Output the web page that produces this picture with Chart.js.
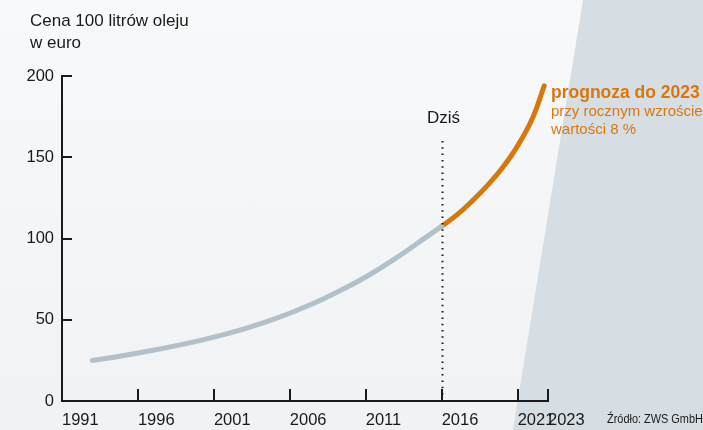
<!DOCTYPE html>
<html lang="pl">
<head>
<meta charset="utf-8">
<title>Cena 100 litrów oleju w euro</title>
<script src="https://cdn.jsdelivr.net/npm/chart.js@4/dist/chart.umd.min.js"></script>
<style>
    html, body { margin: 0; padding: 0; overflow: hidden; }
    body { width: 703px; height: 430px; background: linear-gradient(#f8f9fa, #f0f2f4); font-family: 'Liberation Sans', Arial, sans-serif; }
    #wrap { position: relative; width: 703px; height: 430px; }
    #chart { position: absolute; left: 0; top: 0; }
    .txt { position: absolute; white-space: nowrap; color: #1a1a1a; }
    #title { left: 30px; top: 10px; font-size: 17px; line-height: 22px; }
    #today { left: 427px; top: 108px; font-size: 17px; }
    #note { left: 551px; top: 82px; color: #d9780a; font-size: 15px; line-height: 18px; }
    #note b { font-size: 17.5px; display: block; line-height: 20px; }
    #source { left: 607px; top: 412px; font-size: 12px; transform: scaleX(0.91); transform-origin: left top; }
</style>
</head>
<body>
<div id="wrap">
    <canvas id="chart" width="703" height="430"></canvas>
    <div class="txt" id="title">Cena 100 litrów oleju<br>w euro</div>
    <div class="txt" id="today">Dziś</div>
    <div class="txt" id="note"><b>prognoza do 2023</b>przy rocznym wzroście<br>wartości 8 %</div>
    <div class="txt" id="source">Źródło: ZWS GmbH</div>
</div>
<script>
// values (euro per 100 litres)
var pastYears = [1993, 1995, 1997, 1999, 2001, 2003, 2005, 2007, 2009, 2011, 2013, 2015, 2016];
var pastPrices = [24.9, 27.8, 31.2, 35, 39.3, 44.4, 50.5, 57.8, 66.5, 76.3, 88, 101, 107.5];
var forecastYears = [2016, 2017, 2018, 2019, 2020, 2021, 2022, 2022.75];
var forecastPrices = [107.5, 114.5, 123, 132.5, 143.5, 157, 174.5, 194];
var xTickYears = [1991, 1996, 2001, 2006, 2011, 2016, 2021, 2023];
var yTickValues = [0, 50, 100, 150, 200];
var todayYear = 2016;

var ink = '#1a1a1a';
var tickFont = { family: "'Liberation Sans', Arial, sans-serif", size: 16.5 };

function toPoints(xs, ys) {
    return xs.map(function (x, i) { return { x: x, y: ys[i] }; });
}

// light grey wedge on the right + inward tick marks + dotted "today" line
var decorPlugin = {
    id: 'decor',
    beforeDraw: function (chart) {
        var c = chart.ctx;
        c.save();
        c.fillStyle = '#d6dde3';
        c.beginPath();
        c.moveTo(583, 0);
        c.lineTo(703, 0);
        c.lineTo(703, 430);
        c.lineTo(513, 430);
        c.closePath();
        c.fill();
        c.restore();
    },
    afterDatasetsDraw: function (chart) {
        var c = chart.ctx;
        var xs = chart.scales.x, ys = chart.scales.y;
        var bottom = ys.getPixelForValue(0), left = xs.getPixelForValue(1991);
        c.save();
        c.strokeStyle = ink;
        c.lineWidth = 2;
        xTickYears.slice(1).forEach(function (yr) {
            var px = Math.round(xs.getPixelForValue(yr));
            c.beginPath();
            c.moveTo(px, bottom);
            c.lineTo(px, bottom - 12);
            c.stroke();
        });
        yTickValues.slice(1).forEach(function (v) {
            var py = Math.round(ys.getPixelForValue(v));
            c.beginPath();
            c.moveTo(left, py);
            c.lineTo(left + 10, py);
            c.stroke();
        });
        // dotted line at "today"
        var tx = Math.round(xs.getPixelForValue(todayYear)) + 0.5;
        c.setLineDash([1.5, 4.8]);
        c.beginPath();
        c.moveTo(tx, ys.getPixelForValue(160));
        c.lineTo(tx, bottom - 2);
        c.stroke();
        c.restore();
    }
};

new Chart(document.getElementById('chart').getContext('2d'), {
    type: 'line',
    data: {
        datasets: [{
            label: 'dotychczas',
            data: toPoints(pastYears, pastPrices),
            borderColor: '#b2c1c9',
            borderWidth: 5,
            borderCapStyle: 'round',
            tension: 0.4,
            pointRadius: 0,
            fill: false,
            clip: false
        }, {
            label: 'prognoza',
            data: toPoints(forecastYears, forecastPrices),
            borderColor: '#d9780a',
            borderWidth: 5,
            borderCapStyle: 'round',
            tension: 0.4,
            pointRadius: 0,
            fill: false,
            clip: false
        }]
    },
    options: {
        responsive: false,
        animation: false,
        layout: { padding: { left: 0, top: 76, right: 155, bottom: 0 } },
        plugins: { legend: { display: false }, tooltip: { enabled: false } },
        scales: {
            x: {
                type: 'linear',
                min: 1991,
                max: 2023,
                afterBuildTicks: function (s) { s.ticks = xTickYears.map(function (v) { return { value: v }; }); },
                afterFit: function (s) { s.height = 29; },
                grid: { display: true, drawOnChartArea: false, drawTicks: false },
                border: { display: true, color: ink, width: 2 },
                ticks: {
                    align: 'start',
                    autoSkip: false,
                    maxRotation: 0,
                    padding: 10,
                    color: ink,
                    font: tickFont,
                    callback: function (v) { return String(v); }
                }
            },
            y: {
                min: 0,
                max: 200,
                afterBuildTicks: function (s) { s.ticks = yTickValues.map(function (v) { return { value: v }; }); },
                afterFit: function (s) { s.width = 62; },
                grid: { display: true, drawOnChartArea: false, drawTicks: false },
                border: { display: true, color: ink, width: 2 },
                ticks: {
                    padding: 8,
                    color: ink,
                    font: tickFont
                }
            }
        }
    },
    plugins: [decorPlugin]
});
</script>
</body>
</html>
